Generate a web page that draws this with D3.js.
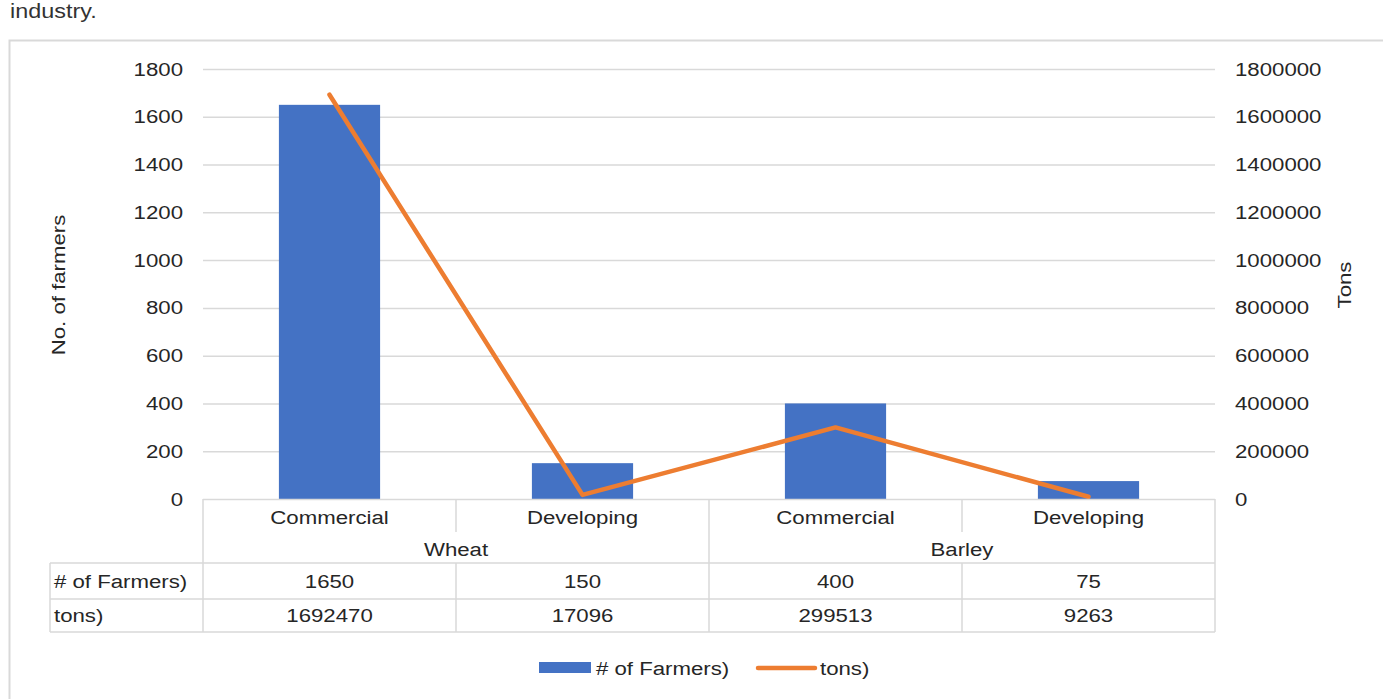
<!DOCTYPE html>
<html>
<head>
<meta charset="utf-8">
<script src="https://cdn.jsdelivr.net/npm/d3@7"></script>
<style>
  html, body { margin: 0; padding: 0; background: #fff; }
  svg { display: block; font-family: "Liberation Sans", Arial, sans-serif; }
</style>
</head>
<body>
<svg id="chart" width="1383" height="699"></svg>
<script>
// Chart data
const groups = ["Wheat", "Barley"];
const categories = ["Commercial", "Developing", "Commercial", "Developing"];
const categoryGroup = ["Wheat", "Wheat", "Barley", "Barley"];
const farmers = [1650, 150, 400, 75];
const tons = [1692470, 17096, 299513, 9263];
const leftTicks = [0, 200, 400, 600, 800, 1000, 1200, 1400, 1600, 1800];
const rightTicks = [0, 200000, 400000, 600000, 800000, 1000000, 1200000, 1400000, 1600000, 1800000];
const seriesNames = ["# of Farmers)", "tons)"];

const BLUE = "#4472C4", ORANGE = "#ED7D31", GRID = "#d9d9d9", TEXT = "#262626";
const FS = 19, SX = 1.17; // font size and horizontal widening of glyphs
const svg = d3.select("#chart");

// place a horizontally widened text at (x, y), optionally rotated
function label(parent, x, y, str, anchor = "middle", rot = 0) {
  return parent.append("text")
    .attr("transform", `translate(${x},${y}) rotate(${rot}) scale(${SX},1)`)
    .attr("text-anchor", anchor).attr("font-size", FS).attr("fill", TEXT)
    .text(str);
}

const plot = { left: 203, right: 1215, top: 69, bottom: 499 };
const keys = categories.map((c, i) => i);

const x = d3.scaleBand().domain(keys).range([plot.left, plot.right])
  .paddingInner(0.6).paddingOuter(0.3);
const slot = d3.scaleBand().domain(keys).range([plot.left, plot.right]);
const yL = d3.scaleLinear().domain([0, 1800]).range([plot.bottom, plot.top]);
const yR = d3.scaleLinear().domain([0, 1800000]).range([plot.bottom, plot.top]);

// Text fragment above the chart frame
svg.append("text").attr("transform", `translate(10,18) scale(${SX},1)`)
  .attr("font-size", 20).attr("fill", "#333")
  .text("industry.");

// Chart frame
svg.append("path").attr("d", "M9.5,699 V40.5 H1383")
  .attr("fill", "none").attr("stroke", GRID).attr("stroke-width", 2);

// Gridlines
svg.append("g").selectAll("line").data(leftTicks.filter(d => d > 0)).join("line")
  .attr("x1", plot.left).attr("x2", plot.right)
  .attr("y1", d => yL(d) + 0.5).attr("y2", d => yL(d) + 0.5)
  .attr("stroke", GRID).attr("stroke-width", 1.5);

// Left axis
const axL = svg.append("g").attr("transform", `translate(${plot.left - 20},0)`)
  .call(d3.axisLeft(yL).tickValues(leftTicks).tickSize(0).tickPadding(0).tickFormat(d3.format("d")));
axL.select(".domain").remove();
axL.selectAll("text").attr("font-size", FS).attr("fill", TEXT)
  .attr("font-family", "Liberation Sans, Arial, sans-serif")
  .attr("transform", `scale(${SX},1)`);

// Right axis
const axR = svg.append("g").attr("transform", `translate(${plot.right + 20},0)`)
  .call(d3.axisRight(yR).tickValues(rightTicks).tickSize(0).tickPadding(0).tickFormat(d3.format("d")));
axR.select(".domain").remove();
axR.selectAll("text").attr("font-size", FS).attr("fill", TEXT)
  .attr("font-family", "Liberation Sans, Arial, sans-serif")
  .attr("transform", `scale(${SX},1)`);

// Axis titles
label(svg, 65, 285, "No. of farmers", "middle", -90);
label(svg, 1351, 285, "Tons", "middle", -90);

// Bars
svg.append("g").selectAll("rect").data(keys).join("rect")
  .attr("x", i => x(i)).attr("width", x.bandwidth())
  .attr("y", i => yL(farmers[i])).attr("height", i => yL(0) - yL(farmers[i]))
  .attr("fill", BLUE);

// Line
const line = d3.line().x(i => x(i) + x.bandwidth() / 2).y(i => yR(tons[i]));
svg.append("path").datum(keys).attr("d", line)
  .attr("fill", "none").attr("stroke", ORANGE).attr("stroke-width", 4.5)
  .attr("stroke-linecap", "round").attr("stroke-linejoin", "round");

// Data table below the plot
const tbl = { left: 50, catBottom: 532, head: 563, row1: 599, row2: 632 };
const tg = svg.append("g").attr("stroke", GRID).attr("stroke-width", 1.5);
tg.append("line").attr("x1", plot.left).attr("x2", plot.right).attr("y1", plot.bottom + 0.5).attr("y2", plot.bottom + 0.5);
[tbl.head, tbl.row1, tbl.row2].forEach(yy =>
  tg.append("line").attr("x1", tbl.left).attr("x2", plot.right).attr("y1", yy).attr("y2", yy));
tg.append("line").attr("x1", tbl.left).attr("x2", tbl.left).attr("y1", tbl.head).attr("y2", tbl.row2);
// vertical lines at slot boundaries
const bounds = keys.map(i => slot(i)).concat([plot.right]);
bounds.forEach((bx, j) => {
  const isGroupEdge = j === 0 || j === bounds.length - 1 || categoryGroup[j] !== categoryGroup[j - 1];
  if (isGroupEdge) {
    tg.append("line").attr("x1", bx).attr("x2", bx).attr("y1", plot.bottom).attr("y2", tbl.row2);
  } else {
    tg.append("line").attr("x1", bx).attr("x2", bx).attr("y1", plot.bottom).attr("y2", tbl.catBottom);
    tg.append("line").attr("x1", bx).attr("x2", bx).attr("y1", tbl.head).attr("y2", tbl.row2);
  }
});

const txt = svg.append("g");
keys.forEach(i => {
  const cx = slot(i) + slot.bandwidth() / 2;
  label(txt, cx, 524, categories[i]);
  label(txt, cx, 588, farmers[i]);
  label(txt, cx, 622, tons[i]);
});
groups.forEach(g => {
  const idx = keys.filter(i => categoryGroup[i] === g);
  const gx0 = slot(idx[0]), gx1 = slot(idx[idx.length - 1]) + slot.bandwidth();
  label(txt, (gx0 + gx1) / 2, 556, g);
});
label(txt, 54, 588, seriesNames[0], "start");
label(txt, 54, 622, seriesNames[1], "start");

// Legend
const lg = svg.append("g");
lg.append("rect").attr("x", 539).attr("y", 662).attr("width", 52).attr("height", 11).attr("fill", BLUE);
label(lg, 596, 675, seriesNames[0], "start");
lg.append("line").attr("x1", 758).attr("x2", 815).attr("y1", 668).attr("y2", 668)
  .attr("stroke", ORANGE).attr("stroke-width", 4.5).attr("stroke-linecap", "round");
label(lg, 820, 675, seriesNames[1], "start");
</script>
</body>
</html>
